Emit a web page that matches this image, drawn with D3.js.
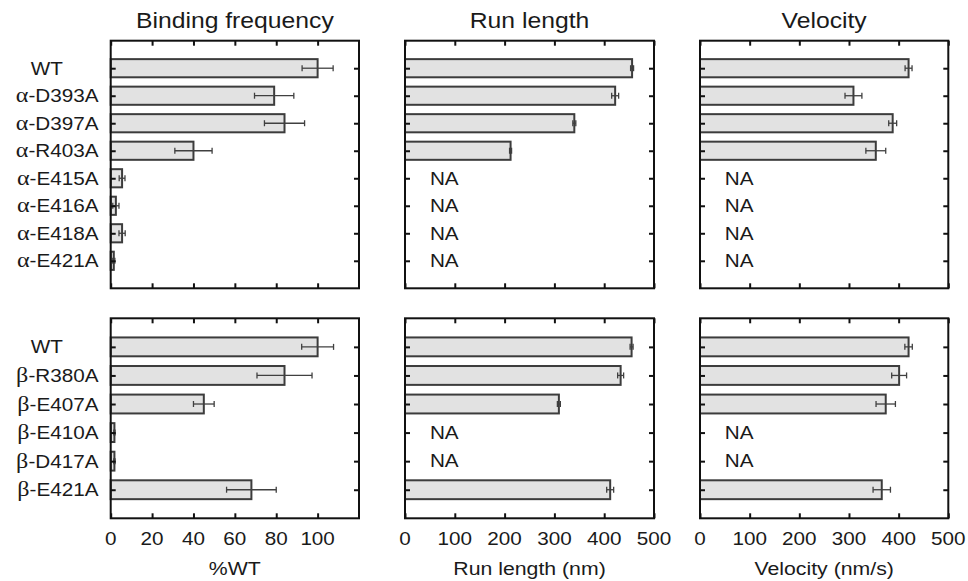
<!DOCTYPE html>
<html>
<head>
<meta charset="utf-8">
<script src="https://cdn.jsdelivr.net/npm/d3@7"></script>
<style>
	body { margin: 0; background: #fff; }
	text { font-family: "Liberation Sans", Arial, Helvetica, sans-serif; fill: #1a1a1a; }
	.greek { font-family: "Liberation Serif", "Times New Roman", serif; }
</style>
</head>
<body>
<div class="chart"></div>
<script>
// categories
var alphaCats = ["WT", "α-D393A", "α-D397A", "α-R403A", "α-E415A", "α-E416A", "α-E418A", "α-E421A"];
var betaCats = ["WT", "β-R380A", "β-E407A", "β-E410A", "β-D417A", "β-E421A"];

// binding frequency (%WT)
var alphaBind = [100, 79, 84, 40, 5.5, 2.5, 5.5, 1.5];
var alphaBindErr = [7.5, 9.5, 9.7, 9, 1.4, 1.5, 1.5, 0.5];
var betaBind = [100, 84, 45, 1.8, 1.8, 68];
var betaBindErr = [7.7, 13.3, 5, 0.3, 0.3, 12];

// run length (nm), null = NA
var alphaRun = [456, 422, 340, 212, null, null, null, null];
var alphaRunErr = [3, 7, 3, 2, null, null, null, null];
var betaRun = [455, 433, 309, null, null, 412];
var betaRunErr = [3, 6, 3, null, null, 7];

// velocity (nm/s), null = NA
var alphaVel = [420, 309, 388, 354, null, null, null, null];
var alphaVelErr = [7, 17, 8, 20, null, null, null, null];
var betaVel = [420, 401, 374, null, null, 366];
var betaVelErr = [7.5, 15, 19.5, null, null, 17.5];

// tick labels
var bindTicks = [0, 20, 40, 60, 80, 100];
var nmTicks = [0, 100, 200, 300, 400, 500];

var titles = ["Binding frequency", "Run length", "Velocity"];
var axisTitles = ["%WT", "Run length (nm)", "Velocity (nm/s)"];

(function () {
	var width = 968, height = 581;
	var SX = 1.15; // the figure is stretched horizontally

	var cols = [
		{ x0: 110.7, x1: 359, max: 120, ticks: bindTicks },
		{ x0: 405, x1: 654, max: 500, ticks: nmTicks },
		{ x0: 700, x1: 948.3, max: 500, ticks: nmTicks }
	];
	var rows = [
		{ y0: 40.7, y1: 288.3, cats: alphaCats, data: [[alphaBind, alphaBindErr], [alphaRun, alphaRunErr], [alphaVel, alphaVelErr]] },
		{ y0: 318.3, y1: 518.3, cats: betaCats, data: [[betaBind, betaBindErr], [betaRun, betaRunErr], [betaVel, betaVelErr]] }
	];

	var svg = d3.select(".chart").append("svg")
		.attr("width", width)
		.attr("height", height);

	function label(g, x, y, str, size, anchor) {
		return g.append("text")
			.attr("transform", "translate(" + x + "," + y + ") scale(" + SX + ",1)")
			.attr("text-anchor", anchor)
			.style("font-size", size + "px")
			.text(str);
	}

	rows.forEach(function (row, ri) {
		var yScale = d3.scalePoint()
			.domain(d3.range(row.cats.length))
			.range([row.y0, row.y1])
			.padding(1);
		var barH = yScale.step() * 0.66;

		// category labels, greek letter set in a serif face
		row.cats.forEach(function (c, i) {
			if (c == "WT") {
				label(svg, 63, yScale(i) + 6.5, c, 18, "end");
			} else {
				var t = label(svg, 98.5, yScale(i) + 6.5, "", 18, "end");
				t.append("tspan").attr("class", "greek").style("font-size", "21px").text(c.charAt(0));
				t.append("tspan").text(c.slice(1));
			}
		});

		cols.forEach(function (col, ci) {
			var xScale = d3.scaleLinear().domain([0, col.max]).range([col.x0, col.x1]);
			var vals = row.data[ci][0], errs = row.data[ci][1];
			var pts = vals.map(function (v, i) { return { v: v, e: errs[i], i: i }; })
				.filter(function (d) { return d.v != null; });
			var g = svg.append("g");

			// bars
			g.selectAll("rect.bar")
				.data(pts)
				.enter()
				.append("rect")
				.attr("class", "bar")
				.attr("x", xScale(0))
				.attr("y", function (d) { return yScale(d.i) - barH / 2; })
				.attr("width", function (d) { return xScale(d.v) - xScale(0); })
				.attr("height", barH)
				.attr("fill", "#e2e2e2")
				.attr("stroke", "#3c3c3c")
				.attr("stroke-width", 2);

			// error bars
			var eb = g.selectAll("g.err")
				.data(pts)
				.enter()
				.append("g")
				.attr("class", "err")
				.attr("stroke", "#404040")
				.attr("stroke-width", 1.3);
			eb.append("line")
				.attr("x1", function (d) { return xScale(d.v - d.e); })
				.attr("x2", function (d) { return xScale(d.v + d.e); })
				.attr("y1", function (d) { return yScale(d.i); })
				.attr("y2", function (d) { return yScale(d.i); });
			[-1, 1].forEach(function (s) {
				eb.append("line")
					.attr("x1", function (d) { return xScale(d.v + s * d.e); })
					.attr("x2", function (d) { return xScale(d.v + s * d.e); })
					.attr("y1", function (d) { return yScale(d.i) - 3; })
					.attr("y2", function (d) { return yScale(d.i) + 3; });
			});

			// NA labels
			vals.forEach(function (v, i) {
				if (v == null) label(g, xScale(50), yScale(i) + 6.3, "NA", 18, "start");
			});

			// inward ticks
			var tickStyle = function (sel) {
				sel.select(".domain").remove();
				sel.selectAll("line").attr("stroke", "#111").attr("stroke-width", 2);
			};
			g.append("g").attr("transform", "translate(" + col.x0 + ",0)")
				.call(d3.axisRight(yScale).tickSizeInner(5).tickSizeOuter(0).tickFormat(""))
				.call(tickStyle);
			g.append("g").attr("transform", "translate(" + col.x1 + ",0)")
				.call(d3.axisLeft(yScale).tickSizeInner(5).tickSizeOuter(0).tickFormat(""))
				.call(tickStyle);
			g.append("g").attr("transform", "translate(0," + row.y0 + ")")
				.call(d3.axisBottom(xScale).tickValues(col.ticks).tickSizeInner(5).tickSizeOuter(0).tickFormat(""))
				.call(tickStyle);
			g.append("g").attr("transform", "translate(0," + row.y1 + ")")
				.call(d3.axisTop(xScale).tickValues(col.ticks).tickSizeInner(5).tickSizeOuter(0).tickFormat(""))
				.call(tickStyle);

			// frame
			g.append("rect")
				.attr("x", col.x0)
				.attr("y", row.y0)
				.attr("width", col.x1 - col.x0)
				.attr("height", row.y1 - row.y0)
				.attr("fill", "none")
				.attr("stroke", "#111")
				.attr("stroke-width", 2);

			var cx = (col.x0 + col.x1) / 2;
			if (ri == 0) {
				label(svg, cx, 28.3, titles[ci], 21.5, "middle");
			} else {
				col.ticks.forEach(function (t) {
					label(svg, xScale(t), row.y1 + 27, t, 18, "middle");
				});
				label(svg, cx, 575, axisTitles[ci], 18.5, "middle");
			}
		});
	});
})();
</script>
</body>
</html>
